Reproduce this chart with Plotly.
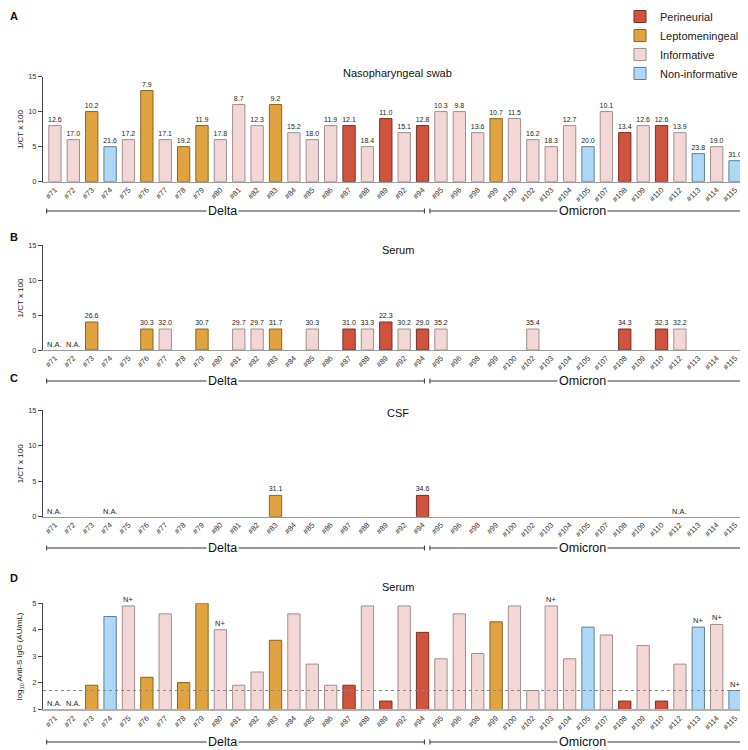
import plotly.graph_objects as go

# ── data ────────────────────────────────────────────────────────────────────
patients = ["#71", "#72", "#73", "#74", "#75", "#76", "#77", "#78", "#79", "#80",
            "#81", "#82", "#83", "#84", "#85", "#86", "#87", "#88", "#89", "#92",
            "#94", "#95", "#96", "#98", "#99", "#100", "#102", "#103", "#104", "#105",
            "#107", "#108", "#109", "#110", "#112", "#113", "#114", "#115"]

# P = Perineurial, L = Leptomeningeal, I = Informative, N = Non-informative
groups = ["I", "I", "L", "N", "I", "L", "I", "L", "L", "I",
          "I", "I", "L", "I", "I", "I", "P", "I", "P", "I",
          "P", "I", "I", "I", "L", "I", "I", "I", "I", "N",
          "I", "P", "I", "P", "I", "N", "I", "N"]

swab_vals = [8, 6, 10, 5, 6, 13, 6, 5, 8, 6,
             11, 8, 11, 7, 6, 8, 8, 5, 9, 7,
             8, 10, 10, 7, 9, 9, 6, 5, 8, 5,
             10, 7, 8, 8, 7, 4, 5, 3]
swab_ct = ["12.6", "17.0", "10.2", "21.6", "17.2", "7.9", "17.1", "19.2", "11.9", "17.8",
           "8.7", "12.3", "9.2", "15.2", "18.0", "11.9", "12.1", "18.4", "11.0", "15.1",
           "12.8", "10.3", "9.8", "13.6", "10.7", "11.5", "16.2", "18.3", "12.7", "20.0",
           "10.1", "13.4", "12.6", "12.6", "13.9", "23.8", "19.0", "31.0"]

serum_pts = ["#73", "#76", "#77", "#79", "#81", "#82", "#83", "#85", "#87", "#88",
             "#89", "#92", "#94", "#95", "#102", "#108", "#110", "#112"]
serum_vals = [4, 3, 3, 3, 3, 3, 3, 3, 3, 3, 4, 3, 3, 3, 3, 3, 3, 3]
serum_ct = ["26.6", "30.3", "32.0", "30.7", "29.7", "29.7", "31.7", "30.3", "31.0", "33.3",
            "22.3", "30.2", "29.0", "35.2", "35.4", "34.3", "32.3", "32.2"]
serum_na = ["#71", "#72"]

csf_pts = ["#83", "#94"]
csf_vals = [3, 3]
csf_ct = ["31.1", "34.6"]
csf_na = ["#71", "#74", "#112"]

igg_vals = [None, None, 1.9, 4.5, 4.9, 2.2, 4.6, 2.0, 5.0, 4.0,
            1.9, 2.4, 3.6, 4.6, 2.7, 1.9, 1.9, 4.9, 1.3, 4.9,
            3.9, 2.9, 4.6, 3.1, 4.3, 4.9, 1.7, 4.9, 2.9, 4.1,
            3.8, 1.3, 3.4, 1.3, 2.7, 4.1, 4.2, 1.7]
igg_na = ["#71", "#72"]
igg_nplus = ["#75", "#80", "#103", "#113", "#114", "#115"]
igg_cutoff = 1.7

# ── styling ─────────────────────────────────────────────────────────────────
FONT = "Liberation Sans, Arial, sans-serif"
OFF = 8                      # page body margin
W, H = 748 - OFF, 750 - OFF
cats = {
    "P": ("Perineurial", "#D0533F", "#7E2E22"),
    "L": ("Leptomeningeal", "#E0A33F", "#8A6422"),
    "I": ("Informative", "#F3D6D6", "#9E9090"),
    "N": ("Non-informative", "#AED8F7", "#5F7F99"),
}
group_of = dict(zip(patients, groups))


def px_(p):
    """page pixel column -> paper x"""
    return (p - OFF) / W


def py(p):
    """page pixel row -> paper y"""
    return 1 - (p - OFF) / H


# panel: (y range, pixel top, pixel bottom, title, title row, letter row, bracket row)
panels = [
    ([0, 15], 76.5, 181.7, "Nasopharyngeal swab", 73, 16, 211),
    ([0, 15], 245, 350, "Serum", 250, 237, 381),
    ([0, 15], 410, 516.7, "CSF", 413, 378, 548),
    ([1, 5], 603.3, 709, "Serum", 587, 578, 742),
]

fig = go.Figure()


def add_bars(idx, pts, vals, texts, clip=False):
    xa = "x" if idx == 1 else f"x{idx}"
    ya = "y" if idx == 1 else f"y{idx}"
    for code in ["P", "L", "I", "N"]:
        name, fill, edge = cats[code]
        sel = [i for i, p in enumerate(pts) if group_of[p] == code and vals[i] is not None]
        if not sel and idx != 1:
            continue
        fig.add_trace(go.Bar(
            x=[pts[i] for i in sel], y=[vals[i] for i in sel],
            text=[texts[i] for i in sel] if texts else None,
            textposition="outside" if texts else "none", constraintext="none",
            textfont=dict(size=7, color="#222", family=FONT),
            marker=dict(color=fill, line=dict(color=edge, width=1)),
            width=0.67, name=name, legendgroup=code,
            showlegend=(idx == 1), cliponaxis=clip,
            xaxis=xa, yaxis=ya, hoverinfo="x+y",
        ))


add_bars(1, patients, swab_vals, swab_ct)
add_bars(2, serum_pts, serum_vals, serum_ct)
add_bars(3, csf_pts, csf_vals, csf_ct)
add_bars(4, patients, igg_vals, None, clip=True)

layout = dict(
    width=W, height=H, margin=dict(l=0, r=0, t=0, b=0, autoexpand=False),
    plot_bgcolor="white", paper_bgcolor="white",
    barmode="overlay", font=dict(family=FONT, color="#222"),
    legend=dict(x=px_(620), y=1 + 6 / H, xanchor="left", yanchor="top",
                font=dict(size=11, family=FONT), tracegroupgap=0,
                itemwidth=30, bgcolor="rgba(0,0,0,0)"),
)

annotations = []
shapes = []
x_lo, x_hi = px_(43), px_(747)
for k, (yr, top, bot, title, trow, lrow, brow) in enumerate(panels, start=1):
    sfx = "" if k == 1 else str(k)
    layout[f"xaxis{sfx}"] = dict(
        domain=[x_lo, x_hi], anchor=f"y{sfx}", type="category",
        categoryorder="array", categoryarray=patients, range=[-0.65, 37.65],
        showline=True, linecolor="#9a9a9a" if k < 4 else "#b0b0b0",
        linewidth=1 if k < 4 else 2,
        ticks="", tickangle=-45, tickfont=dict(size=7.5, color="#333"),
        showgrid=False, zeroline=False, fixedrange=True,
    )
    layout[f"yaxis{sfx}"] = dict(
        domain=[py(bot), py(top)], anchor=f"x{sfx}", range=yr,
        tickvals=[0, 5, 10, 15] if k < 4 else [1, 2, 3, 4, 5],
        showline=True, linecolor="#444", linewidth=1,
        ticks="outside", ticklen=4, tickcolor="#444",
        tickfont=dict(size=7.5, color="#333"),
        showgrid=False, zeroline=False, fixedrange=True,
    )
    # panel letter and title
    annotations.append(dict(text=f"<b>{'ABCD'[k - 1]}</b>", x=px_(8), y=py(lrow),
                            xref="paper", yref="paper", xanchor="left", yanchor="middle",
                            showarrow=False, font=dict(size=11, color="#111")))
    annotations.append(dict(text=title, x=px_(398), y=py(trow), xref="paper", yref="paper",
                            xanchor="center", yanchor="middle", showarrow=False,
                            font=dict(size=11, color="#111")))
    # y-axis title
    ytitle = "1/CT x 100" if k < 4 else "log<sub>10</sub> Anti-S IgG (AU/mL)"
    annotations.append(dict(text=ytitle, x=px_(20), y=py((top + bot) / 2),
                            xref="paper", yref="paper", textangle=-90,
                            xanchor="center", yanchor="middle", showarrow=False,
                            font=dict(size=8, color="#222")))
    # variant brackets
    for lo, hi, label, mid in [(-0.45, 20.1, "Delta", 9.13), (20.4, 37.55, "Omicron", 28.7)]:
        yb = py(brow)
        shapes.append(dict(type="line", xref=f"x{sfx}", yref="paper", x0=lo, x1=hi,
                           y0=yb, y1=yb, line=dict(color="#333", width=1)))
        for xe in (lo, hi):
            shapes.append(dict(type="line", xref=f"x{sfx}", yref="paper", x0=xe, x1=xe,
                               y0=yb - 2.5 / H, y1=yb + 2.5 / H,
                               line=dict(color="#333", width=1)))
        annotations.append(dict(text=label, x=mid, y=yb, xref=f"x{sfx}", yref="paper",
                                xanchor="center", yanchor="middle", showarrow=False,
                                bgcolor="white", borderpad=1,
                                font=dict(size=12.5, color="#111")))

# N.A. markers
for k, na_list in [(2, serum_na), (3, csf_na), (4, igg_na)]:
    base = 1 if k == 4 else 0
    for p in na_list:
        annotations.append(dict(text="N.A.", x=p, y=base, xref=f"x{k}", yref=f"y{k}",
                                xanchor="center", yanchor="bottom", showarrow=False,
                                yshift=-1, font=dict(size=7.5, color="#222")))

# N+ markers
for p in igg_nplus:
    annotations.append(dict(text="N+", x=p, y=igg_vals[patients.index(p)],
                            xref="x4", yref="y4", xanchor="center", yanchor="bottom",
                            showarrow=False, font=dict(size=7.5, color="#222")))

# cut-off line
shapes.append(dict(type="line", xref="x4 domain", yref="y4", x0=0, x1=1,
                   y0=igg_cutoff, y1=igg_cutoff,
                   line=dict(color="#888", width=1, dash="dot")))

layout["annotations"] = annotations
layout["shapes"] = shapes
fig.update_layout(**layout)
fig.write_html("out.html")
